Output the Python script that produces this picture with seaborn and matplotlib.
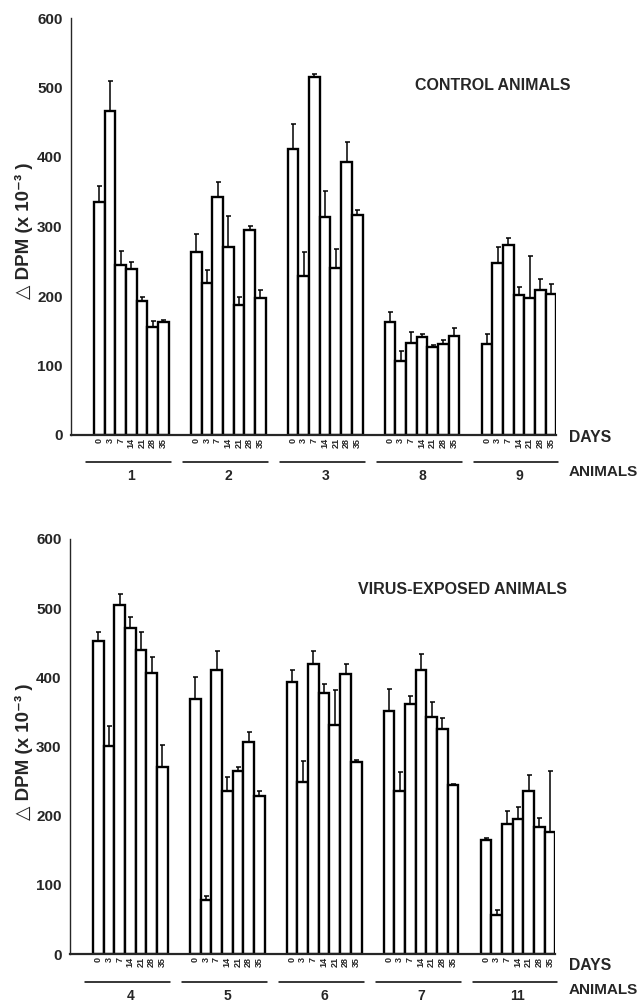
import numpy as np
import pandas as pd
import matplotlib
matplotlib.use("Agg")
import matplotlib.pyplot as plt
import matplotlib.transforms as mtransforms
import seaborn as sns

days = ["0", "3", "7", "14", "21", "28", "35"]

control_animals = ["1", "2", "3", "8", "9"]
control_mean = [
    [335, 466, 244, 239, 193, 156, 162],
    [263, 219, 343, 270, 187, 295, 197],
    [412, 229, 515, 314, 241, 393, 316],
    [163, 107, 132, 141, 127, 131, 142],
    [131, 247, 273, 202, 197, 209, 203],
]
control_err = [
    [23, 43, 21, 10, 6, 8, 4],
    [26, 19, 21, 45, 12, 6, 12],
    [35, 34, 5, 37, 26, 29, 8],
    [14, 14, 16, 5, 3, 5, 12],
    [14, 24, 11, 11, 60, 15, 14],
]

virus_animals = ["4", "5", "6", "7", "11"]
virus_mean = [
    [452, 301, 505, 471, 440, 406, 271],
    [369, 78, 411, 235, 264, 307, 229],
    [393, 249, 419, 377, 331, 405, 278],
    [351, 236, 362, 410, 343, 325, 245],
    [165, 57, 188, 195, 236, 183, 176],
]
virus_err = [
    [14, 28, 15, 16, 26, 24, 31],
    [31, 6, 27, 21, 6, 14, 7],
    [17, 30, 19, 13, 51, 15, 3],
    [32, 27, 11, 24, 21, 16, 1],
    [3, 7, 19, 18, 23, 14, 89],
]

sns.set_style("white")
plt.rcParams["font.family"] = ["Liberation Sans", "DejaVu Sans"]
plt.rcParams["font.weight"] = "bold"

W, H = 643, 1002
fig = plt.figure(figsize=(W / 100, H / 100), dpi=100)

GROUP_STEP = 9.07
OFFSET = 2.65
XMAX = 45.4


def build(animals, means, errs):
    rows = []
    for g, a in enumerate(animals):
        for i, d in enumerate(days):
            rows.append(dict(animal=a, day=d, mean=means[g][i], err=errs[g][i],
                             pos=round(OFFSET + g * GROUP_STEP + i, 3), g=g))
    return pd.DataFrame(rows)


def panel(rect_px, animals, means, errs, title, title_xy, ylabel_y,
          days_y, animals_y, line_y, num_y):
    x0, ytop, wpx, hpx = rect_px
    ax = fig.add_axes([x0 / W, 1 - (ytop + hpx) / H, wpx / W, hpx / H])
    df = build(animals, means, errs)
    sns.barplot(data=df, x="pos", y="mean", native_scale=True, width=1.0,
                color="white", edgecolor="black", linewidth=1.7,
                errorbar=None, ax=ax)
    ax.errorbar(df["pos"], df["mean"], yerr=[np.zeros(len(df)), df["err"]],
                fmt="none", ecolor="black", elinewidth=1.1, capsize=1.8,
                capthick=1.1)
    ax.set_xlim(0, XMAX)
    ax.set_ylim(0, 600)
    ax.set_yticks(range(0, 601, 100))
    ax.tick_params(axis="y", length=0, pad=6, labelsize=11)
    for lab in ax.get_yticklabels():
        lab.set_fontweight("bold")
    ax.set_xticks(df["pos"])
    ax.set_xticklabels(df["day"], rotation=90, fontsize=6.5, fontweight="bold",
                       va="top", ha="center")
    ax.tick_params(axis="x", length=0, pad=2)
    ax.set_xlabel("")
    ax.set_ylabel("")
    for s in ["top", "right"]:
        ax.spines[s].set_visible(False)
    ax.spines["left"].set_linewidth(1.0)
    ax.spines["bottom"].set_linewidth(1.6)
    ax.spines["bottom"].set_bounds(0, XMAX)

    trans = mtransforms.blended_transform_factory(ax.transData, fig.transFigure)
    for g, a in enumerate(animals):
        sub = df[df["g"] == g]
        xa = sub["pos"].min() - 1.2
        xb = sub["pos"].max() + 0.7
        ax.plot([xa, xb], [1 - line_y / H] * 2, color="black", lw=1.1,
                transform=trans, clip_on=False)
        ax.text(sub["pos"].mean(), 1 - num_y / H, a, transform=trans,
                ha="center", va="center", fontsize=10, fontweight="bold")

    fig.text(title_xy[0] / W, 1 - title_xy[1] / H, title, ha="center",
             va="center", fontsize=11.5, fontweight="bold")
    fig.text(569 / W, 1 - days_y / H, "DAYS", ha="left", va="center",
             fontsize=11.3, fontweight="bold")
    fig.text(569 / W, 1 - animals_y / H, "ANIMALS", ha="left", va="center",
             fontsize=11, fontweight="bold")
    fig.text(24 / W, 1 - ylabel_y / H, "\u25B3 DPM (x 10\u207B\u00B3 )",
             rotation=90, ha="center", va="center", fontsize=13.5,
             fontweight="bold")
    return ax


panel((71, 18, 485, 417), control_animals, control_mean, control_err,
      "CONTROL ANIMALS", (493, 86), 231, 437, 472, 462, 476)
panel((70, 539, 485, 415), virus_animals, virus_mean, virus_err,
      "VIRUS-EXPOSED ANIMALS", (462, 589), 752, 965, 990, 982, 996)

fig.savefig("out.png", dpi=100)
